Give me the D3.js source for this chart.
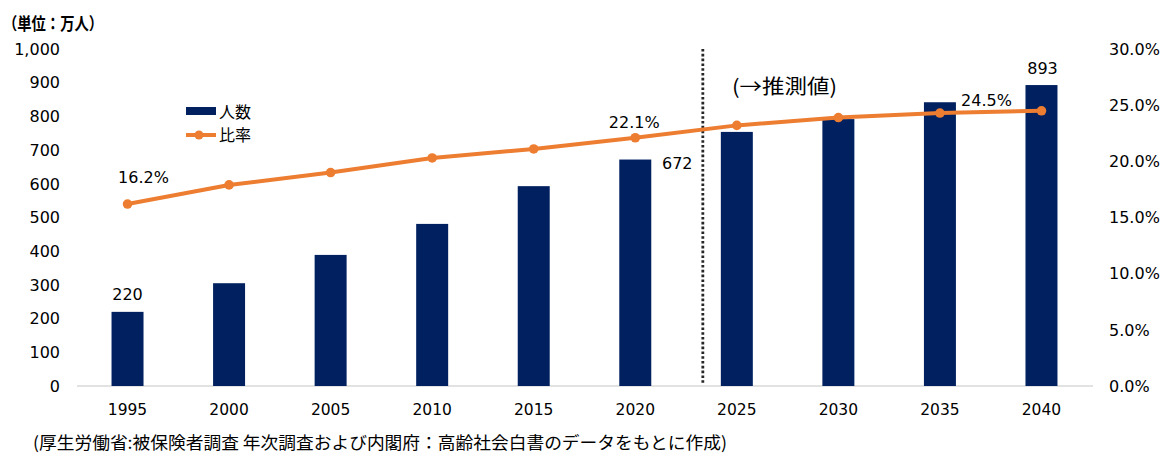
<!DOCTYPE html>
<html><head><meta charset="utf-8">
<script src="https://cdn.jsdelivr.net/npm/d3@7"></script>
<style>
body{margin:0;background:#fff;}
svg{display:block;}
text{font-family:"DejaVu Sans",Verdana,sans-serif;fill:#000;}
.jp{font-family:"Noto Sans CJK JP","Noto Sans",sans-serif;}
</style></head>
<body>
<svg id="chart" width="1170" height="471"></svg>
<script>
const years = ["1995","2000","2005","2010","2015","2020","2025","2030","2035","2040"];
const workers = [220, 305, 389, 481, 593, 672, 754, 792, 842, 893];
const ratio = [16.2, 17.9, 19.0, 20.3, 21.1, 22.1, 23.2, 23.9, 24.3, 24.5];
const leftTicks = [0,100,200,300,400,500,600,700,800,900,1000];
const rightTicks = [0,5,10,15,20,25,30];
const workerLabels = {"1995":"220","2020":"672","2040":"893"};
const ratioLabels = {"1995":"16.2%","2020":"22.1%","2040":"24.5%"};

const svg = d3.select("#chart");
const x = d3.scaleBand().domain(years).range([77,1092]).paddingInner(0.685).paddingOuter(0.34);
const yL = d3.scaleLinear().domain([0,1000]).range([386,49]);
const yR = d3.scaleLinear().domain([0,30]).range([386,49]);
const cx = d => x(d) + x.bandwidth()/2;

// baseline
svg.append("line").attr("x1",77).attr("x2",1093).attr("y1",yL(0)).attr("y2",yL(0))
  .attr("stroke","#d9d9d9").attr("stroke-width",1.3);

// left axis labels
const fmt = d3.format(",");
svg.append("g").selectAll("text").data(leftTicks).join("text")
  .attr("x",60).attr("y",d=>yL(d)).attr("dy","0.36em").attr("text-anchor","end")
  .style("font-size","16px").text(d=>fmt(d));
// right axis labels
svg.append("g").selectAll("text").data(rightTicks).join("text")
  .attr("x",1109).attr("y",d=>yR(d)).attr("dy","0.36em").attr("text-anchor","start")
  .style("font-size","16px").text(d=>d.toFixed(1)+"%");
// x labels
svg.append("g").selectAll("text").data(years).join("text")
  .attr("x",d=>cx(d)).attr("y",409).attr("dy","0.36em").attr("text-anchor","middle")
  .style("font-size","15.5px").text(d=>d);

// bars
svg.append("g").selectAll("rect").data(years).join("rect")
  .attr("x",d=>x(d)).attr("width",x.bandwidth())
  .attr("y",(d,i)=>yL(workers[i])).attr("height",(d,i)=>yL(0)-yL(workers[i]))
  .attr("fill","#002060");

// dotted separator between actual and projection
const sepX = cx("2025") - 34;
svg.append("line").attr("x1",sepX).attr("x2",sepX).attr("y1",49).attr("y2",383)
  .attr("stroke","#262626").attr("stroke-width",2.8).attr("stroke-dasharray","2.6,2.2");

// line
const line = d3.line().x(d=>cx(d.y)).y(d=>yR(d.v));
const pts = years.map((y,i)=>({y, v: ratio[i]}));
svg.append("path").datum(pts).attr("d",line).attr("fill","none")
  .attr("stroke","#ED7D31").attr("stroke-width",4).attr("stroke-linejoin","round");
svg.append("g").selectAll("circle").data(pts).join("circle")
  .attr("cx",d=>cx(d.y)).attr("cy",d=>yR(d.v)).attr("r",4.8).attr("fill","#ED7D31");

// bar data labels
const wi = y => workers[years.indexOf(y)];
const ri = y => ratio[years.indexOf(y)];
svg.append("text").attr("x",cx("1995")).attr("y",yL(wi("1995"))-18).attr("dy","0.36em")
  .attr("text-anchor","middle").style("font-size","16px").text(workerLabels["1995"]);
svg.append("text").attr("x",x("2020")+x.bandwidth()+26).attr("y",yL(wi("2020"))+4).attr("dy","0.36em")
  .attr("text-anchor","middle").style("font-size","16px").text(workerLabels["2020"]);
svg.append("text").attr("x",cx("2040")+1).attr("y",yL(wi("2040"))-17).attr("dy","0.36em")
  .attr("text-anchor","middle").style("font-size","16px").text(workerLabels["2040"]);
// ratio labels
svg.append("text").attr("x",cx("1995")+16).attr("y",yR(ri("1995"))-27).attr("dy","0.36em")
  .attr("text-anchor","middle").style("font-size","16px").text(ratioLabels["1995"]);
svg.append("text").attr("x",cx("2020")-1).attr("y",yR(ri("2020"))-16).attr("dy","0.36em")
  .attr("text-anchor","middle").style("font-size","16px").text(ratioLabels["2020"]);
svg.append("text").attr("x",cx("2040")-55).attr("y",yR(ri("2040"))-11).attr("dy","0.36em")
  .attr("text-anchor","middle").style("font-size","16px").text(ratioLabels["2040"]);

// legend
svg.append("rect").attr("x",186).attr("y",107).attr("width",30).attr("height",8).attr("fill","#002060");
svg.append("text").attr("class","jp").attr("x",219).attr("y",112).attr("dy","0.36em")
  .style("font-size","16px").text("人数");
svg.append("line").attr("x1",186).attr("x2",216).attr("y1",135).attr("y2",135)
  .attr("stroke","#ED7D31").attr("stroke-width",4);
svg.append("circle").attr("cx",199).attr("cy",135).attr("r",4.5).attr("fill","#ED7D31");
svg.append("text").attr("class","jp").attr("x",219).attr("y",135).attr("dy","0.36em")
  .style("font-size","16px").text("比率");

// unit label
svg.append("text").attr("class","jp").attr("x",3).attr("y",24).attr("dy","0.36em")
  .style("font-size","17px").style("font-weight","bold").text("（単位：万人）")
  .attr("textLength",100).attr("lengthAdjust","spacingAndGlyphs");
// projection note
svg.append("text").attr("class","jp").attr("x",732).attr("y",87).attr("dy","0.36em")
  .style("font-size","20px").text("(→推測値)")
  .attr("textLength",105).attr("lengthAdjust","spacingAndGlyphs");
// source
svg.append("text").attr("class","jp").attr("x",33).attr("y",443).attr("dy","0.36em")
  .style("font-size","17px").text("(厚生労働省:被保険者調査 年次調査および内閣府：高齢社会白書のデータをもとに作成)")
  .attr("textLength",694).attr("lengthAdjust","spacingAndGlyphs");
</script>
</body></html>
